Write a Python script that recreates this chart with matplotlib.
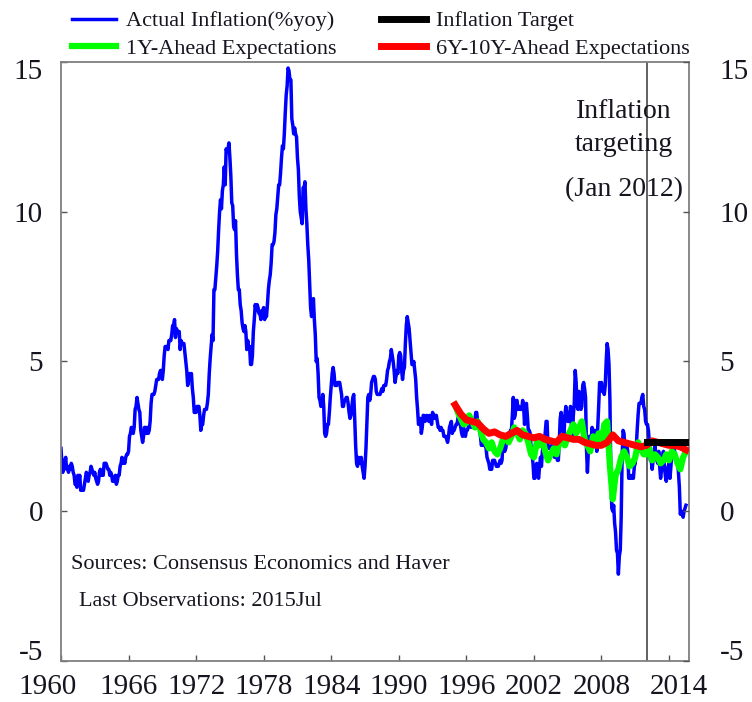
import matplotlib
matplotlib.use('Agg')
from matplotlib import pyplot as plt
from matplotlib.transforms import ScaledTranslation
import numpy as np

plt.rcParams['font.family'] = ['Liberation Serif', 'DejaVu Serif']
plt.rcParams['axes.unicode_minus'] = False

# US CPI inflation, % yoy, monthly from 1960 Jan to 2015 Jul
cpi = [
    2.1, 1.6, 1.3, 1.7, 1.6, 1.8, 1.4, 1.5, 1.3, 1.5, 1.4, 1.6,
    1.5, 1.3, 1.2, 0.9, 0.9, 0.8, 1.2, 1.0, 1.2, 0.7, 0.7, 0.7,
    0.7, 0.9, 1.1, 1.3, 1.2, 1.0, 1.2, 1.3, 1.5, 1.4, 1.3, 1.2,
    1.3, 1.1, 1.0, 0.9, 1.0, 1.3, 1.4, 1.2, 1.3, 1.2, 1.6, 1.6,
    1.6, 1.5, 1.4, 1.4, 1.2, 1.3, 1.2, 1.0, 1.1, 1.0, 1.2, 0.9,
    1.0, 1.2, 1.2, 1.5, 1.6, 1.8, 1.6, 1.7, 1.6, 1.8, 1.9, 1.9,
    2.0, 2.5, 2.6, 2.8, 2.7, 2.6, 2.8, 3.4, 3.5, 3.8, 3.6, 3.4,
    3.3, 2.7, 2.5, 2.3, 2.5, 2.8, 2.8, 2.6, 2.8, 2.6, 2.7, 3.0,
    3.6, 3.9, 3.9, 3.9, 4.0, 4.2, 4.4, 4.4, 4.4, 4.6, 4.7, 4.7,
    4.4, 4.7, 5.2, 5.5, 5.5, 5.5, 5.4, 5.7, 5.7, 5.7, 5.9, 6.2,
    6.2, 6.4, 5.8, 6.1, 6.0, 6.0, 6.0, 5.4, 5.7, 5.6, 5.6, 5.6,
    5.3, 5.0, 4.7, 4.2, 4.4, 4.6, 4.4, 4.6, 4.1, 3.8, 3.3, 3.3,
    3.3, 3.5, 3.5, 3.5, 3.2, 2.7, 2.9, 2.9, 3.2, 3.4, 3.4, 3.4,
    3.6, 3.9, 4.6, 5.1, 5.5, 5.9, 5.7, 7.4, 7.4, 7.8, 8.2, 8.7,
    9.4, 10.0, 10.4, 10.1, 10.7, 10.9, 11.5, 10.9, 12.1, 12.0, 12.1, 12.3,
    11.8, 11.2, 10.3, 10.2, 9.5, 9.4, 9.7, 8.6, 7.9, 7.4, 7.4, 6.9,
    6.7, 6.3, 6.1, 6.0, 6.2, 6.0, 5.4, 5.7, 5.5, 5.5, 4.9, 4.9,
    5.2, 6.0, 6.4, 6.9, 6.7, 6.9, 6.8, 6.6, 6.6, 6.4, 6.7, 6.7,
    6.8, 6.4, 6.6, 6.5, 6.9, 7.4, 7.7, 7.9, 8.3, 8.9, 8.9, 9.0,
    9.3, 9.9, 10.1, 10.5, 10.9, 10.9, 11.3, 11.8, 12.2, 12.1, 12.6, 13.3,
    13.9, 14.2, 14.8, 14.7, 14.4, 14.4, 13.1, 12.9, 12.6, 12.8, 12.6, 12.5,
    11.8, 11.4, 10.5, 10.0, 9.8, 9.6, 10.8, 10.8, 11.0, 10.1, 9.6, 8.9,
    8.4, 7.6, 6.8, 6.5, 6.7, 7.1, 6.4, 5.9, 5.0, 5.1, 4.6, 3.8,
    3.7, 3.5, 3.6, 3.9, 3.5, 2.6, 2.5, 2.6, 2.9, 2.9, 3.3, 3.8,
    4.2, 4.6, 4.8, 4.6, 4.2, 4.2, 4.2, 4.3, 4.3, 4.3, 4.1, 3.9,
    3.5, 3.5, 3.7, 3.7, 3.8, 3.8, 3.6, 3.3, 3.1, 3.2, 3.5, 3.8,
    3.9, 3.1, 2.2, 1.6, 1.5, 1.8, 1.6, 1.6, 1.8, 1.5, 1.3, 1.1,
    1.5, 2.1, 3.0, 3.8, 3.9, 3.7, 3.9, 4.3, 4.4, 4.5, 4.5, 4.4,
    4.0, 3.9, 3.9, 3.9, 3.9, 4.0, 4.1, 4.0, 4.2, 4.2, 4.2, 4.4,
    4.7, 4.8, 5.0, 5.1, 5.4, 5.2, 5.0, 4.7, 4.3, 4.5, 4.7, 4.6,
    5.2, 5.3, 5.2, 4.7, 4.4, 4.7, 4.8, 5.6, 6.2, 6.5, 6.3, 6.1,
    5.7, 5.3, 4.9, 4.9, 5.0, 4.7, 4.4, 3.8, 3.4, 2.9, 3.0, 3.1,
    2.6, 2.8, 3.2, 3.2, 3.0, 3.1, 3.2, 3.1, 3.0, 3.2, 3.0, 2.9,
    3.3, 3.2, 3.1, 3.2, 3.2, 3.0, 2.8, 2.8, 2.7, 2.8, 2.7, 2.7,
    2.5, 2.5, 2.5, 2.4, 2.3, 2.5, 2.8, 2.9, 3.0, 2.6, 2.7, 2.7,
    2.8, 2.9, 2.9, 3.1, 3.2, 3.0, 2.8, 2.6, 2.5, 2.8, 2.6, 2.5,
    2.7, 2.7, 2.8, 2.9, 2.9, 2.8, 3.0, 2.9, 3.0, 3.0, 3.3, 3.3,
    3.0, 3.0, 2.8, 2.5, 2.2, 2.3, 2.2, 2.2, 2.2, 2.1, 1.8, 1.7,
    1.6, 1.4, 1.4, 1.4, 1.7, 1.7, 1.7, 1.6, 1.5, 1.5, 1.5, 1.6,
    1.7, 1.6, 1.7, 2.3, 2.1, 2.0, 2.1, 2.3, 2.6, 2.6, 2.6, 2.7,
    2.7, 3.2, 3.8, 3.1, 3.2, 3.7, 3.7, 3.4, 3.5, 3.4, 3.4, 3.4,
    3.7, 3.5, 2.9, 3.3, 3.6, 3.2, 2.7, 2.7, 2.6, 2.1, 1.9, 1.6,
    1.1, 1.1, 1.5, 1.6, 1.2, 1.1, 1.5, 1.8, 1.5, 2.0, 2.2, 2.4,
    2.6, 3.0, 3.0, 2.2, 2.1, 2.1, 2.1, 2.2, 2.3, 2.0, 1.8, 1.9,
    1.9, 1.7, 1.7, 2.3, 3.1, 3.3, 3.0, 2.7, 2.5, 3.2, 3.5, 3.3,
    3.0, 3.0, 3.1, 3.5, 2.8, 2.5, 3.2, 3.6, 4.7, 4.3, 3.5, 3.4,
    4.0, 3.6, 3.4, 3.5, 4.2, 4.3, 4.1, 3.8, 2.1, 1.3, 2.0, 2.5,
    2.1, 2.4, 2.8, 2.6, 2.7, 2.7, 2.4, 2.0, 2.8, 3.5, 4.3, 4.1,
    4.3, 4.0, 4.0, 3.9, 4.2, 5.0, 5.6, 5.4, 4.9, 3.7, 1.1, 0.1,
    0.0, 0.2, -0.4, -0.7, -1.3, -1.4, -2.1, -1.5, -1.3, -0.2, 1.8, 2.7,
    2.6, 2.1, 2.3, 2.2, 2.0, 1.1, 1.2, 1.1, 1.1, 1.2, 1.1, 1.5,
    1.6, 2.1, 2.7, 3.2, 3.6, 3.6, 3.6, 3.8, 3.9, 3.5, 3.4, 3.0,
    2.9, 2.9, 2.7, 2.3, 1.7, 1.7, 1.4, 1.7, 2.0, 2.2, 1.8, 1.7,
    1.6, 2.0, 1.5, 1.1, 1.4, 1.8, 2.0, 1.5, 1.2, 1.0, 1.2, 1.5,
    1.6, 1.1, 1.5, 2.0, 2.1, 2.1, 2.0, 1.7, 1.7, 1.7, 1.3, 0.8,
    -0.1, 0.0, -0.1, -0.2, 0.0, 0.1, 0.2,
]
cpi_start = 1960

# Consensus 1Y-ahead expectations, quarterly from 1995Q1
exp_1y = [
    3.55, 3.3, 3.1, 2.9,
    2.95, 3.2, 3.0, 2.8,
    3.0, 2.7, 2.4, 2.3,
    2.1, 2.3, 2.0, 1.9,
    2.1, 2.4, 2.5, 2.3,
    2.5, 2.8, 2.6, 2.4,
    2.7, 2.6, 2.3, 1.9,
    1.8, 2.3, 2.2, 2.4,
    2.0, 1.7, 1.9, 2.1,
    1.9, 2.3, 2.5, 2.2,
    2.5, 2.7, 2.9, 2.6,
    2.8, 3.0, 2.4, 2.2,
    2.0, 2.5, 2.3, 2.6,
    2.3, 2.9, 3.0, 1.5,
    0.4, 1.2, 1.4, 1.8,
    2.0, 1.8, 1.5, 1.6,
    1.8, 2.3, 2.1, 1.9,
    1.9, 2.1, 1.7, 1.9,
    1.8, 1.6, 1.7, 1.9,
    1.7, 2.0, 1.9, 1.6,
    1.4, 1.8, 2.0,
]
exp_1y_start = 1995

# 6Y-10Y-ahead expectations, semiannual from 1995
exp_6y = [
    3.55, 3.25, 3.05, 3.0, 2.95, 2.75, 2.6, 2.65, 2.55, 2.5,
    2.6, 2.7, 2.55, 2.5, 2.45, 2.5, 2.4, 2.35, 2.3, 2.5,
    2.45, 2.4, 2.4, 2.3, 2.25, 2.2, 2.2, 2.3, 2.55, 2.35,
    2.3, 2.25, 2.2, 2.15, 2.2, 2.35, 2.3, 2.25, 2.2, 2.2,
    2.15, 2.05,
]
exp_6y_start = 1995

target_years = [2012.0, 2015.6]
target = [2.3, 2.3]

it_date = 2012.0
year_ticks = [1960, 1966, 1972, 1978, 1984, 1990, 1996, 2002, 2008, 2014]
y_ticks = [-5, 0, 5, 10, 15]

t_cpi = cpi_start + np.arange(len(cpi)) / 12
t_1y = exp_1y_start + np.arange(len(exp_1y)) / 4
t_6y = exp_6y_start + np.arange(len(exp_6y)) / 2

fig = plt.figure(figsize=(7.52, 7.02), dpi=100)
ax = fig.add_axes([0.0811, 0.0584, 0.8351, 0.8533])

tcol = '#15151f'
ax.plot(t_cpi, cpi, color='#0000ff', lw=2.5, label='Actual Inflation(%yoy)', zorder=2)
ax.plot(t_1y, exp_1y, color='#00ff00', lw=4.5, label='1Y-Ahead Expectations', zorder=3)
ax.plot(target_years, target, color='black', lw=5, label='Inflation Target', zorder=5)
ax.plot(t_6y, exp_6y, color='#ff0000', lw=5, label='6Y-10Y-Ahead Expectations', zorder=4)
ax.axvline(it_date, color='#555555', lw=1.3, zorder=1)

ax.set_xlim(1960, 2015.77)
ax.set_ylim(-5, 15)
ax.set_xticks(year_ticks)
ax.set_yticks(y_ticks)
ax.tick_params(axis='x', direction='in', length=4, width=1, color='#555555',
               labelsize=21, labelcolor=tcol, pad=9)
ax.tick_params(axis='y', direction='in', length=4, width=1, color='#555555',
               labelsize=21, labelcolor=tcol, pad=13)
for s in ax.spines.values():
    s.set_color('#7f7f7f')
    s.set_linewidth(1.3)

ax2 = ax.twinx()
ax2.set_ylim(-5, 15)
ax2.set_yticks(y_ticks)
ax2.tick_params(axis='y', direction='in', length=4, width=1, color='#555555',
                labelsize=21, labelcolor=tcol, pad=22)
for s in ax2.spines.values():
    s.set_visible(False)

# end labels sit a bit inside, like the original
def nudge(lbl, dx, dy):
    lbl.set_transform(lbl.get_transform() + ScaledTranslation(dx / 72, dy / 72, fig.dpi_scale_trans))

xl = ax.get_xticklabels()
nudge(xl[0], -10, 0)
nudge(xl[-1], 7, 0)
for a in (ax, ax2):
    yl = a.get_yticklabels()
    nudge(yl[0], 0, 8)
    nudge(yl[-1], 0, -5)

ax.text(2010.0, 13.13, 'Inflation', fontsize=20, color=tcol, ha='center', va='baseline')
ax.text(2010.0, 12.03, 'targeting', fontsize=20, color=tcol, ha='center', va='baseline')
ax.text(2010.0, 10.53, '(Jan 2012)', fontsize=20, color=tcol, ha='center', va='baseline')
ax.text(1960.9, -1.93, 'Sources: Consensus Economics and Haver', fontsize=16, color=tcol, va='baseline')
ax.text(1961.6, -3.17, 'Last Observations: 2015Jul', fontsize=16, color=tcol, va='baseline')

h, l = ax.get_legend_handles_labels()
fig.legend(h, l, ncol=2, frameon=False,
           loc='upper left', bbox_to_anchor=(0.069, 1.013), fontsize=16,
           handlelength=2.0, handletextpad=0.45, columnspacing=2.0,
           labelspacing=0.3, labelcolor=tcol)

fig.savefig('out.png', dpi=100)
